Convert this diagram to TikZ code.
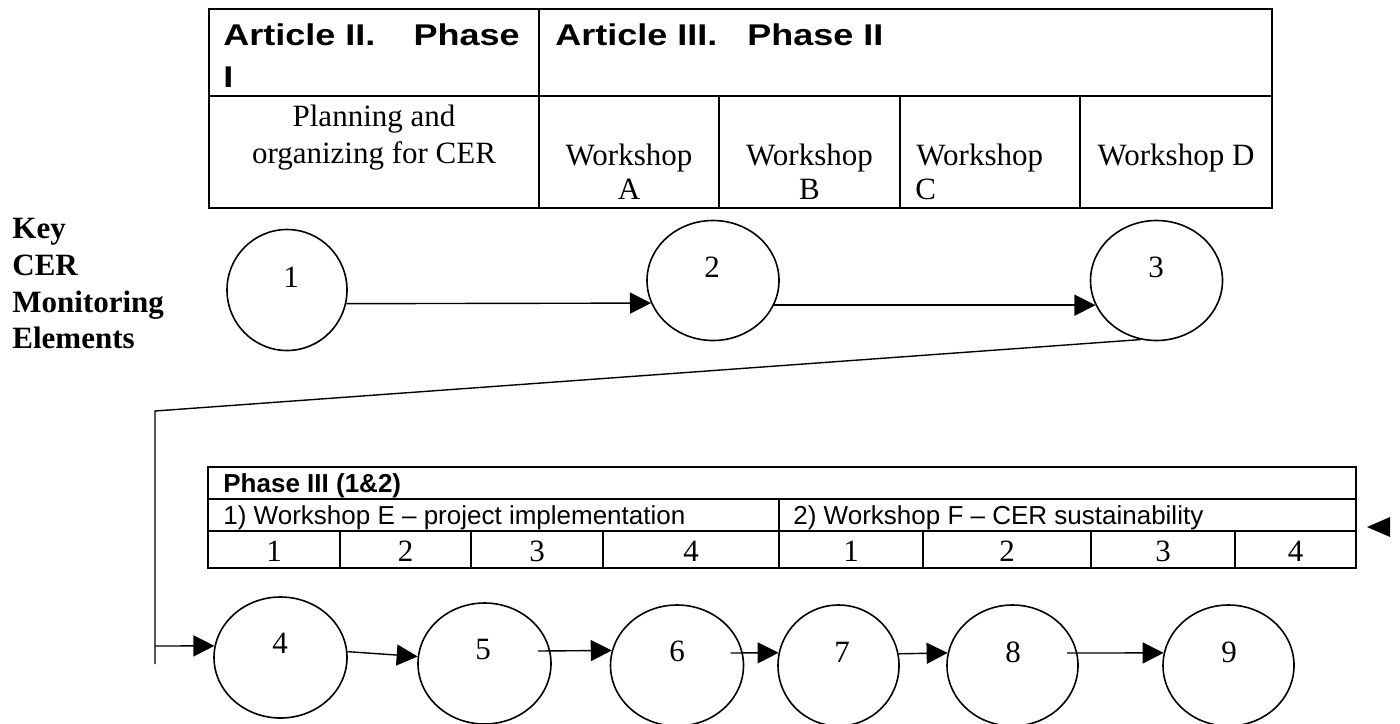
\documentclass[tikz,border=0pt]{standalone}
\usepackage{fontspec}
\setmainfont{Liberation Serif}
\newfontfamily\arialfont{Liberation Sans}
\usepackage{graphicx}
\usetikzlibrary{shapes.geometric,arrows.meta,calc}
\begin{document}
\begin{tikzpicture}[x=0.5pt,y=-0.5pt,
  tbl/.style={line width=1pt},
  ell/.style={ellipse,draw,line width=0.8pt,inner sep=0pt},
  arr/.style={line width=0.7pt,-{Triangle[length=10.5pt,width=10.5pt]}},
  conn/.style={line width=0.7pt},
  ser/.style={inner sep=0pt,font=\fontsize{15.5pt}{17pt}\selectfont},
  serb/.style={inner sep=0pt,font=\fontsize{15.5pt}{17pt}\selectfont\bfseries},
  hdr/.style={inner sep=0pt,font=\arialfont\fontsize{15pt}{17pt}\selectfont\bfseries},
  sans/.style={inner sep=0pt,font=\arialfont\fontsize{13pt}{15pt}\selectfont},
  sansb/.style={inner sep=0pt,font=\arialfont\fontsize{13pt}{15pt}\selectfont\bfseries},
  num/.style={inner sep=0pt,anchor=base,font=\fontsize{15.5pt}{17pt}\selectfont}
]
\useasboundingbox (0,0) rectangle (1400,723);

% ---------- top table ----------
\draw[tbl] (209,9) rectangle (1272,208);
\draw[tbl] (209,96) -- (1272,96);
\draw[tbl] (539,9) -- (539,208);
\draw[tbl] (719,96) -- (719,208);
\draw[tbl] (900,96) -- (900,208);
\draw[tbl] (1080,96) -- (1080,208);

\node[hdr,anchor=base west] (h1a) at (223,45) {\scalebox{1.2}[1]{Article II.}};
\node[hdr,anchor=base east] (h1b) at (520,45) {\scalebox{1.2}[1]{Phase}};
\node[hdr,anchor=base west] (h1c) at (223,87) {\scalebox{1.2}[1]{I}};
\node[hdr,anchor=base west] (h2a) at (555,45) {\scalebox{1.2}[1]{Article III.}};
\node[hdr,anchor=base west] (h2b) at (747,45) {\scalebox{1.2}[1]{Phase II}};

\node[ser,anchor=base] (p1) at (374,126) {Planning and};
\node[ser,anchor=base] (p2) at (374,163) {organizing for CER};
\node[ser,anchor=base] (wa1) at (629,165) {Workshop};
\node[ser,anchor=base] (wa2) at (629,199) {A};
\node[ser,anchor=base] (wb1) at (809.5,165) {Workshop};
\node[ser,anchor=base] (wb2) at (809.5,199) {B};
\node[ser,anchor=base west] (wc1) at (916,165) {Workshop};
\node[ser,anchor=base west] (wc2) at (915,199) {C};
\node[ser,anchor=base] (wd1) at (1176,165) {Workshop D};

% ---------- key label ----------
\node[serb,anchor=base west] (k1) at (12,238) {Key};
\node[serb,anchor=base west] (k2) at (12,275) {CER};
\node[serb,anchor=base west] (k3) at (12,312) {Monitoring};
\node[serb,anchor=base west] (k4) at (12,348) {Elements};

% ---------- first row of elements ----------
\node[ell,minimum width=60pt,minimum height=60.5pt] (c1) at (287,290) {};
\node[ell,minimum width=66pt,minimum height=60pt] (c2) at (713,280.5) {};
\node[ell,minimum width=66pt,minimum height=60pt] (c3) at (1156.5,280.5) {};
\node[num] (n1) at (291,287) {1};
\node[num] (n2) at (712,277) {2};
\node[num] (n3) at (1156,277) {3};

\draw[arr] (c1.-13.5) -- (c2.200.7);
\draw[arr] (c2.-22.6) -- (c3.202.6);

% ---------- lower table ----------
\draw[tbl] (208,467) rectangle (1356,568);
\draw[tbl] (208,499) -- (1356,499);
\draw[tbl] (208,531) -- (1356,531);
\draw[tbl] (779,499) -- (779,568);
\foreach \xx in {340,471,603,923,1091,1235} \draw[tbl] (\xx,531) -- (\xx,568);

\node[sansb,anchor=base west] (t1) at (223,492) {Phase III (1\&2)};
\node[sans,anchor=base west] (t2) at (223,524) {1) Workshop E – project implementation};
\node[sans,anchor=base west] (t3) at (793,524) {2) Workshop F – CER sustainability};
\node[num] (r1) at (274,561) {1};
\node[num] (r2) at (405.5,561) {2};
\node[num] (r3) at (537,561) {3};
\node[num] (r4) at (691,561) {4};
\node[num] (r5) at (851,561) {1};
\node[num] (r6) at (1007,561) {2};
\node[num] (r7) at (1163,561) {3};
\node[num] (r8) at (1295.5,561) {4};

% lone arrowhead at the right
\fill (1367,527) -- (1390,517) -- (1390,537) -- cycle;

% ---------- second row of elements ----------
\node[ell,minimum width=66.5pt,minimum height=60.5pt] (c4) at (280.5,657.5) {};
\node[ell,minimum width=66.5pt,minimum height=60.5pt] (c5) at (484.5,663.5) {};
\node[ell,minimum width=66.5pt,minimum height=60.5pt] (c6) at (677,665.5) {};
\node[ell,minimum width=60.5pt,minimum height=60.5pt] (c7) at (838.5,665.5) {};
\node[ell,minimum width=65.5pt,minimum height=60.5pt] (c8) at (1012.5,665.5) {};
\node[ell,minimum width=65.5pt,minimum height=60.5pt] (c9) at (1228.5,665.5) {};
\node[num] (n4) at (280,653) {4};
\node[num] (n5) at (483,659) {5};
\node[num] (n6) at (677,661) {6};
\node[num] (n7) at (842,662) {7};
\node[num] (n8) at (1013,662) {8};
\node[num] (n9) at (1229,662) {9};

% connector from 3 down to 4
\coordinate (bend) at (155,411);
\coordinate (vend) at (155,664);
\coordinate (j4) at (155,646);
\draw[conn] (c3.255.7) -- (bend) -- (vend);
\draw[arr] (j4) -- (c4.170);

\draw[arr] (c4.5.6) -- (c5.174.4);
\draw[arr] ($(c5.center)+(53.5,-12.5)$) -- (c6.167.35);
\draw[arr] ($(c6.center)+(53.5,-12.5)$) -- (c7.168.1);
\draw[arr] (c7.11.9) -- (c8.169);
\draw[arr] ($(c8.center)+(54.5,-12.5)$) -- (c9.169);
\end{tikzpicture}
\end{document}
